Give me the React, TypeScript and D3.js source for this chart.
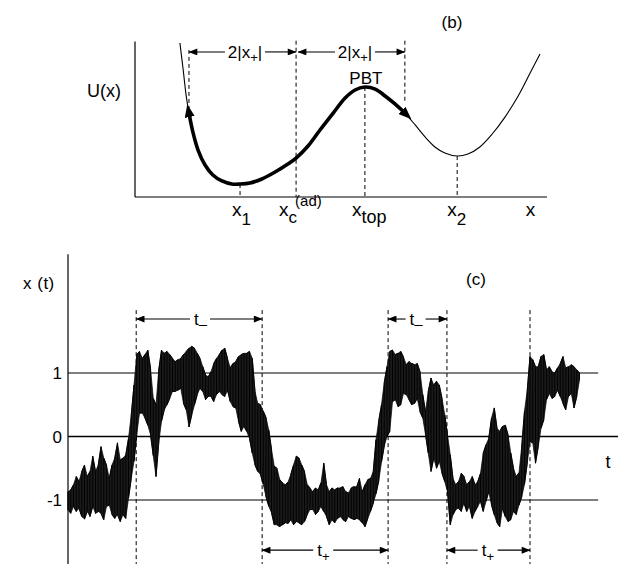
import React from 'react';
import * as d3 from 'd3';

const FONT = '"Liberation Sans", Arial, Helvetica, sans-serif';

// ---- panel (b): potential U(x) ----
const potX = [1.09, 1.17, 1.24, 1.31, 1.41, 1.53, 1.70, 1.89, 2.11, 2.35, 2.55, 2.79, 3.08, 3.40, 3.71, 3.91, 4.20, 4.49, 4.81, 5.10, 5.34, 5.58, 5.83, 6.07, 6.31, 6.55, 6.80, 7.04, 7.28, 7.52, 7.82, 8.08, 8.37, 8.67, 8.98, 9.30, 9.59, 9.83];
const potU = [10.0, 8.25, 6.62, 5.45, 4.16, 3.05, 2.08, 1.43, 1.04, 0.84, 0.84, 0.91, 1.17, 1.62, 2.14, 2.53, 3.31, 4.35, 5.45, 6.43, 6.95, 7.14, 7.01, 6.56, 6.04, 5.45, 4.68, 3.90, 3.25, 2.86, 2.66, 2.79, 3.25, 4.09, 5.19, 6.56, 8.05, 9.29];
// indices into the curve
const PBT_FROM = 3;
const PBT_TO = 25;
const IDX_X1 = 10;
const IDX_XC = 15;
const IDX_TOP = 21;
const IDX_X2 = 30;

// ---- panel (c): x(t) trace, upper / lower envelope every half time unit ----
const SIG_STEP = 0.5;
const sigHi = [
  -0.87, -0.84, -0.76, -0.63, -0.71, -0.55, -0.45, -0.63, -0.55, -0.31,
  -0.55, -0.45, -0.16, -0.34, -0.45, -0.66, -0.45, -0.34, -0.10, -0.37,
  -0.34, -0.29, -0.03, 0.34, 0.81, 1.29, 1.34, 1.23, 1.29, 1.36,
  1.08, 0.60, 0.50, 1.05, 1.36, 1.31, 1.34, 1.29, 1.23, 1.18,
  1.21, 1.23, 1.29, 1.34, 1.39, 1.42, 1.39, 1.31, 1.23, 1.10,
  0.97, 0.94, 1.02, 1.15, 1.23, 1.29, 1.36, 1.39, 1.23, 1.08,
  1.15, 1.18, 1.26, 1.29, 1.31, 1.31, 1.34, 1.23, 0.71, 0.52,
  0.50, 0.40, 0.30, 0.10, -0.20, -0.47, -0.50, -0.68, -0.73, -0.76,
  -0.72, -0.60, -0.45, -0.31, -0.34, -0.45, -0.55, -0.76, -0.81, -0.87,
  -0.81, -0.84, -0.73, -0.42, -0.76, -0.87, -0.81, -0.84, -0.81, -0.81,
  -0.79, -0.87, -0.89, -0.81, -0.79, -0.79, -0.66, -0.87, -0.76, -0.68,
  -0.66, -0.55, -0.05, 0.25, 0.50, 0.85, 1.10, 1.34, 1.36, 1.29,
  1.31, 1.34, 1.25, 1.13, 1.18, 1.15, 1.13, 1.15, 1.02, 0.66,
  0.39, 0.71, 0.92, 0.81, 0.87, 0.81, 0.60, 0.34, 0.03, -0.29,
  -0.66, -0.76, -0.71, -0.58, -0.63, -0.76, -0.71, -0.63, -0.76, -0.71,
  -0.58, -0.26, -0.13, -0.03, 0.29, 0.45, 0.13, 0.08, 0.16, 0.18,
  0.03, -0.26, -0.50, -0.63, -0.57, -0.15, 0.40, 0.73, 1.26, 1.21,
  1.10, 1.10, 1.26, 1.29, 1.05, 1.10, 1.02, 1.00, 1.08, 1.15,
  1.26, 1.08, 1.10, 1.13, 1.10, 1.05, 1.00,
];
const sigLo = [
  -1.15, -1.21, -1.10, -1.18, -1.13, -1.26, -1.30, -1.18, -1.26, -1.10,
  -1.21, -1.18, -1.21, -1.31, -1.10, -1.08, -1.23, -1.29, -1.23, -1.34,
  -1.23, -1.29, -0.97, -0.66, -0.39, 0.03, 0.37, 0.37, 0.29, 0.18,
  0.03, -0.30, -0.63, -0.10, 0.24, 0.42, 0.50, 0.60, 0.71, 0.71,
  0.73, 0.76, 0.52, 0.42, 0.15, 0.34, 0.50, 0.66, 0.76, 0.71,
  0.58, 0.63, 0.63, 0.55, 0.66, 0.71, 0.66, 0.63, 0.73, 0.55,
  0.47, 0.45, 0.24, 0.08, 0.16, 0.08, -0.03, -0.26, -0.45, -0.55,
  -0.60, -0.75, -0.95, -1.10, -1.20, -1.39, -1.39, -1.42, -1.39, -1.36,
  -1.37, -1.31, -1.39, -1.34, -1.36, -1.39, -1.34, -1.23, -1.15, -1.15,
  -1.23, -1.18, -1.10, -1.18, -1.26, -1.39, -1.31, -1.36, -1.29, -1.26,
  -1.31, -1.34, -1.26, -1.29, -1.31, -1.29, -1.31, -1.36, -1.42, -1.29,
  -1.18, -1.05, -0.90, -0.70, -0.40, -0.15, 0.00, 0.08, 0.55, 0.58,
  0.47, 0.50, 0.68, 0.66, 0.58, 0.50, 0.52, 0.60, 0.39, 0.29,
  0.03, -0.26, -0.55, -0.34, -0.50, -0.39, -0.58, -0.71, -0.87, -1.39,
  -1.23, -1.15, -1.13, -1.18, -1.05, -1.18, -1.10, -1.29, -1.18, -1.10,
  -1.02, -1.18, -1.02, -0.87, -1.08, -1.23, -1.36, -1.42, -1.13, -1.26,
  -1.34, -1.31, -1.18, -1.23, -1.08, -0.95, -0.75, -0.42, -0.08, -0.10,
  -0.42, -0.16, 0.13, 0.26, 0.58, 0.68, 0.60, 0.63, 0.73, 0.63,
  0.52, 0.42, 0.63, 0.68, 0.45, 0.63, 0.89,
];
const cLevels = [1, 0, -1];
const cLevelEnd = [96.4, 100, 96.4];
// switching times (dashed verticals)
const cSwitch = [12.4, 35.3, 58.2, 68.9, 84.0];
// residence intervals: [from, to, label position]
const cUpper = [[12.4, 35.3, 24.0], [58.2, 68.9, 63.2]];
const cLower = [[35.3, 58.2, 46.4], [68.9, 84.0, 76.3]];

type P = [number, number];

const DimArrow: React.FC<{ a: number; b: number; y: number; l: number; r: number }> = ({ a, b, y, l, r }) => (
  <g stroke="#000" strokeWidth={1.1}>
    <line x1={a} y1={y} x2={l} y2={y} markerStart="url(#ah)" />
    <line x1={r} y1={y} x2={b} y2={y} markerEnd="url(#ah)" />
  </g>
);

export default function App() {
  const W = 618;
  const H = 564;

  // panel (b) scales
  const xB = d3.scaleLinear().domain([0, 10]).range([135, 547]);
  const uB = d3.scaleLinear().domain([0, 10]).range([197, 43]);
  const pts: P[] = potX.map((x, i) => [x, potU[i]]);
  const curve = d3.line<P>().x(d => xB(d[0])).y(d => uB(d[1])).curve(d3.curveCatmullRom.alpha(0.5));
  const thin = curve(pts) || '';
  const thick = curve(pts.slice(PBT_FROM, PBT_TO + 1)) || '';

  // panel (c) scales
  const tC = d3.scaleLinear().domain([0, 100]).range([68, 618]);
  const vC = d3.scaleLinear().domain([-1, 1]).range([500, 373]);
  const sigT = sigHi.map((_, i) => i * SIG_STEP);
  const band = d3.area<number>()
    .x((_, i) => tC(sigT[i]))
    .y0((_, i) => vC(sigLo[i]))
    .y1((_, i) => vC(sigHi[i]))(sigHi) || '';
  const zz: P[] = [];
  sigHi.forEach((h, i) => {
    if (i % 2 === 0) { zz.push([sigT[i], h]); zz.push([sigT[i], sigLo[i]]); }
    else { zz.push([sigT[i], sigLo[i]]); zz.push([sigT[i], h]); }
  });
  const zig = d3.line<P>().x(d => tC(d[0])).y(d => vC(d[1]))(zz) || '';

  const dimYb = uB(9.42);
  const dimTop = vC(1.85);
  const dimBot = vC(-1.79);

  return (
    <svg width={W} height={H} viewBox={`0 0 ${W} ${H}`}
      style={{ position: 'absolute', left: 0, top: 0, background: '#fff' }}
      fontFamily={FONT}>
      <defs>
        <marker id="ah" viewBox="0 0 10 8" refX={9.5} refY={4} markerWidth={10} markerHeight={7}
          markerUnits="userSpaceOnUse" orient="auto-start-reverse">
          <path d="M0,0 L10,4 L0,8 z" fill="#000" />
        </marker>
        <marker id="ahBig" viewBox="0 0 13 10" refX={4} refY={5} markerWidth={13} markerHeight={10}
          markerUnits="userSpaceOnUse" orient="auto-start-reverse">
          <path d="M0,0 L13,5 L0,10 z" fill="#000" />
        </marker>
      </defs>

      {/* ---------- (b) ---------- */}
      <g>
        <line x1={xB(0)} y1={uB(10.1)} x2={xB(0)} y2={uB(0)} stroke="#000" strokeWidth={1.2} />
        <line x1={xB(0)} y1={uB(0)} x2={xB(10)} y2={uB(0)} stroke="#000" strokeWidth={1.2} />

        <g stroke="#000" strokeWidth={1} strokeDasharray="4,3">
          <line x1={xB(potX[PBT_FROM])} x2={xB(potX[PBT_FROM])} y1={uB(9.55)} y2={uB(potU[PBT_FROM])} />
          <line x1={xB(potX[IDX_XC])} x2={xB(potX[IDX_XC])} y1={uB(10.15)} y2={uB(0)} />
          <line x1={xB(potX[IDX_TOP])} x2={xB(potX[IDX_TOP])} y1={uB(potU[IDX_TOP])} y2={uB(0)} />
          <line x1={xB(potX[PBT_TO])} x2={xB(potX[PBT_TO])} y1={uB(10.15)} y2={uB(6.15)} />
          <line x1={xB(potX[IDX_X1])} x2={xB(potX[IDX_X1])} y1={uB(potU[IDX_X1])} y2={uB(0)} />
          <line x1={xB(potX[IDX_X2])} x2={xB(potX[IDX_X2])} y1={uB(potU[IDX_X2])} y2={uB(0)} />
        </g>

        <path d={thin} fill="none" stroke="#000" strokeWidth={1.1} />
        <path d={thick} fill="none" stroke="#000" strokeWidth={3.6}
          markerStart="url(#ahBig)" markerEnd="url(#ahBig)" />

        <DimArrow a={xB(potX[PBT_FROM])} b={xB(potX[IDX_XC])} y={dimYb} l={225} r={265} />
        <DimArrow a={xB(potX[IDX_XC]) + 2} b={xB(potX[PBT_TO])} y={dimYb} l={335} r={375} />
        {[245, 355].map(cx => (
          <text key={cx} x={cx} y={dimYb + 6} fontSize={17} textAnchor="middle">
            2|x<tspan fontSize={13} dy={4}>+</tspan><tspan dy={-4}>|</tspan>
          </text>
        ))}

        <text x={xB(potX[IDX_TOP]) + 1} y={84} fontSize={17} textAnchor="middle">PBT</text>
        <text x={87} y={97} fontSize={18}>U(x)</text>
        <text x={452} y={28} fontSize={17} textAnchor="middle">(b)</text>

        <text x={xB(potX[IDX_X1]) - 8} y={216} fontSize={19}>x<tspan fontSize={17} dy={9}>1</tspan></text>
        <text x={xB(potX[IDX_XC]) - 17} y={216} fontSize={19}>x<tspan fontSize={17} dy={7}>c</tspan>
          <tspan fontSize={15} dx={-2} dy={-17}>(ad)</tspan></text>
        <text x={xB(potX[IDX_TOP]) - 13} y={216} fontSize={19}>x<tspan fontSize={18} dy={7}>top</tspan></text>
        <text x={xB(potX[IDX_X2]) - 10} y={216} fontSize={19}>x<tspan fontSize={17} dy={9}>2</tspan></text>
        <text x={xB(9.6)} y={216} fontSize={19} textAnchor="middle">x</text>
      </g>

      {/* ---------- (c) ---------- */}
      <g>
        <line x1={tC(0)} x2={tC(0)} y1={vC(2.87)} y2={H} stroke="#000" strokeWidth={1.2} />
        {cLevels.map((v, i) => (
          <g key={v}>
            <line x1={tC(0)} x2={tC(cLevelEnd[i])} y1={vC(v)} y2={vC(v)} stroke="#000"
              strokeWidth={v === 0 ? 1.3 : 1} />
            <text x={62} y={vC(v) + 6} fontSize={17} textAnchor="end">{v === -1 ? '-1' : String(v)}</text>
          </g>
        ))}
        <g stroke="#000" strokeWidth={1} strokeDasharray="4,3">
          {cSwitch.map(t => <line key={t} x1={tC(t)} x2={tC(t)} y1={vC(1.99)} y2={H} />)}
        </g>

        <path d={band} fill="#1a1a1a" stroke="#000" strokeWidth={0.7} />
        <path d={zig} fill="none" stroke="#000" strokeWidth={0.9} />

        {cUpper.map(([a, b, m]) => (
          <g key={a}>
            <DimArrow a={tC(a)} b={tC(b)} y={dimTop} l={tC(m) - 10} r={tC(m) + 10} />
            <text x={tC(m) - 6} y={dimTop + 6} fontSize={17}>t<tspan fontSize={15} dy={4}>–</tspan></text>
          </g>
        ))}
        {cLower.map(([a, b, m]) => (
          <g key={a}>
            <DimArrow a={tC(a)} b={tC(b)} y={dimBot} l={tC(m) - 10} r={tC(m) + 10} />
            <text x={tC(m) - 6} y={dimBot + 6} fontSize={17}>t<tspan fontSize={13} dy={5}>+</tspan></text>
          </g>
        ))}

        <text x={23} y={289} fontSize={17} letterSpacing={0.5}>x (t)</text>
        <text x={476} y={285} fontSize={17} textAnchor="middle">(c)</text>
        <text x={608} y={468} fontSize={18} textAnchor="middle">t</text>
      </g>
    </svg>
  );
}
